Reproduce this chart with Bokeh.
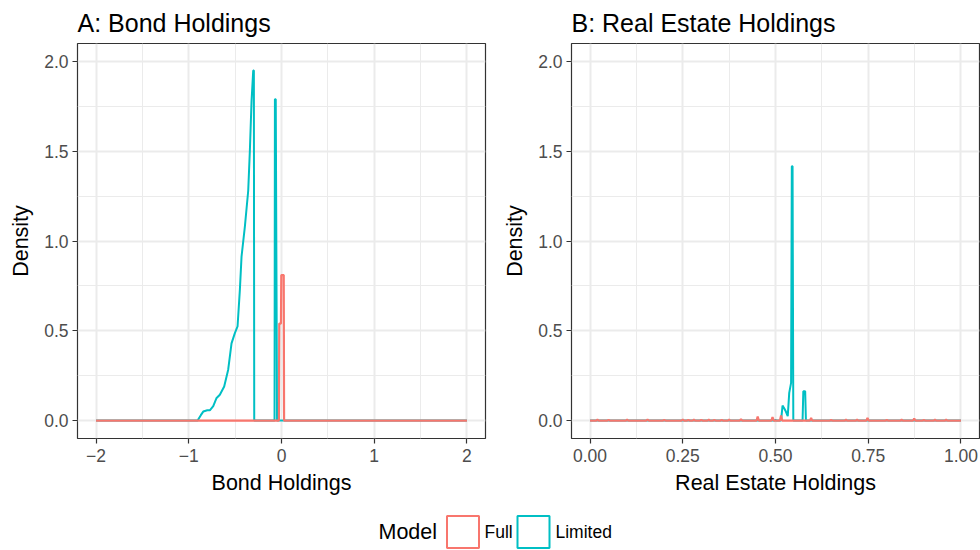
from bokeh.plotting import figure
from bokeh.models import Range1d, FixedTicker
from bokeh.layouts import row, column
from bokeh.embed import file_html
from bokeh.resources import INLINE
from bokeh.core.properties import value

# ---------------- data ----------------
# Panel A: Bond Holdings densities
bond_limited_x = [-2.0, -0.905, -0.87, -0.844, -0.80, -0.773, -0.736, -0.70, -0.665,
                  -0.618, -0.575, -0.539, -0.503, -0.474, -0.449, -0.431, -0.395,
                  -0.359, -0.341, -0.323, -0.305, -0.298, -0.294, -0.075, -0.071,
                  -0.062, -0.048, 2.0]
bond_limited_y = [0.0, 0.0, 0.03, 0.05, 0.057, 0.057, 0.08, 0.126, 0.144,
                  0.19, 0.283, 0.43, 0.487, 0.524, 0.728, 0.913, 1.08,
                  1.28, 1.505, 1.78, 1.95, 1.95, 0.0, 0.0, 1.79,
                  1.79, 0.0, 0.0]
bond_full_x = [-2.0, -0.028, -0.024, -0.006, -0.002, 0.024, 0.028, 2.0]
bond_full_y = [0.0, 0.0, 0.54, 0.54, 0.81, 0.81, 0.0, 0.0]

# Panel B: Real Estate Holdings densities
re_limited_x = [0.0, 0.497, 0.500, 0.503, 0.515, 0.519, 0.523, 0.528, 0.533, 0.537,
                0.542, 0.544, 0.546, 0.548, 0.573, 0.575, 0.580, 0.582, 1.0]
re_limited_y = [0.0, 0.0, 0.004, 0.0, 0.0, 0.083, 0.07, 0.05, 0.024, 0.154,
                0.21, 1.417, 1.417, 0.0, 0.0, 0.163, 0.163, 0.0, 0.0]
re_full_bump_x = [0.02, 0.05, 0.10, 0.155, 0.20, 0.25, 0.265, 0.28, 0.30, 0.32,
                  0.335, 0.355, 0.375, 0.407, 0.452, 0.492, 0.515, 0.596, 0.65,
                  0.69, 0.72, 0.748, 0.80, 0.84, 0.874, 0.90, 0.93, 0.96]
re_full_bump_h = [0.005, 0.004, 0.005, 0.006, 0.004, 0.006, 0.004, 0.005, 0.004, 0.005,
                  0.004, 0.004, 0.005, 0.008, 0.022, 0.02, 0.028, 0.015, 0.004,
                  0.005, 0.005, 0.015, 0.004, 0.005, 0.012, 0.004, 0.005, 0.005]

bond_ticks = [-2, -1, 0, 1, 2]
bond_tick_labels = ["\u22122", "\u22121", "0", "1", "2"]
re_ticks = [0.0, 0.25, 0.5, 0.75, 1.0]
re_tick_labels = ["0.00", "0.25", "0.50", "0.75", "1.00"]
y_ticks = [0.0, 0.5, 1.0, 1.5, 2.0]
y_tick_labels = ["0.0", "0.5", "1.0", "1.5", "2.0"]

models = ["Full", "Limited"]
colors = {"Full": "#F8766D", "Limited": "#00BFC4"}

FONT = "Liberation Sans"

# build the Full real-estate polyline from its bumps
re_full_x = [0.0]
re_full_y = [0.0]
for bx, bh in zip(re_full_bump_x, re_full_bump_h):
    re_full_x += [bx - 0.003, bx, bx + 0.003]
    re_full_y += [0.0, bh, 0.0]
re_full_x.append(1.0)
re_full_y.append(0.0)


def minor_of(ticks):
    return [(a + b) / 2 for a, b in zip(ticks[:-1], ticks[1:])]


def make_panel(title, xlabel, xr, xticks, xlabels, left, right):
    p = figure(width=490, height=500, x_range=Range1d(*xr), y_range=Range1d(-0.1, 2.1),
               output_backend="svg", toolbar_location=None,
               min_border_left=left, min_border_right=right,
               min_border_top=42, min_border_bottom=62)
    p.background_fill_color = "white"
    p.border_fill_color = "white"
    p.outline_line_color = "#333333"
    p.outline_line_width = 1.2

    p.title.text = title
    p.title.text_font = FONT
    p.title.text_font_size = "25px"
    p.title.text_font_style = "normal"
    p.title.text_color = "black"
    p.title.align = "left"
    p.title.offset = 0
    p.title.standoff = 13

    p.xaxis.ticker = FixedTicker(ticks=xticks, minor_ticks=minor_of(xticks))
    p.yaxis.ticker = FixedTicker(ticks=y_ticks, minor_ticks=minor_of(y_ticks))
    p.xaxis.major_label_overrides = {t: l for t, l in zip(xticks, xlabels)}
    p.yaxis.major_label_overrides = {t: l for t, l in zip(y_ticks, y_tick_labels)}
    p.xaxis.axis_label = xlabel
    p.yaxis.axis_label = "Density"
    for ax in (p.xaxis, p.yaxis):
        ax.axis_line_color = None
        ax.major_tick_line_color = "#333333"
        ax.major_tick_line_width = 1.2
        ax.major_tick_out = 5
        ax.major_tick_in = 0
        ax.minor_tick_out = 0
        ax.minor_tick_in = 0
        ax.major_label_text_font = FONT
        ax.major_label_text_font_size = "17.5px"
        ax.major_label_text_color = "#4D4D4D"
        ax.axis_label_text_font = FONT
        ax.axis_label_text_font_size = "21.5px"
        ax.axis_label_text_font_style = "normal"
        ax.axis_label_text_color = "black"
    p.xaxis.major_label_standoff = 5
    p.yaxis.major_label_standoff = 4
    p.xaxis.axis_label_standoff = 6
    p.yaxis.axis_label_standoff = 8

    for g in (p.xgrid, p.ygrid):
        g.grid_line_color = "#EBEBEB"
        g.grid_line_width = 2
        g.minor_grid_line_color = "#EBEBEB"
        g.minor_grid_line_width = 1
    return p


p1 = make_panel("A: Bond Holdings", "Bond Holdings", (-2.2, 2.2), bond_ticks,
                bond_tick_labels, 77, 5)
p1.line(bond_limited_x, bond_limited_y, line_color=colors["Limited"], line_width=2)
p1.line(bond_full_x, bond_full_y, line_color=colors["Full"], line_width=2.2)

p2 = make_panel("B: Real Estate Holdings", "Real Estate Holdings", (-0.05, 1.05), re_ticks,
                re_tick_labels, 81, 1)
p2.line(re_limited_x, re_limited_y, line_color=colors["Limited"], line_width=2)
p2.line(re_full_x, re_full_y, line_color=colors["Full"], line_width=2.2)

# ---------------- legend strip ----------------
leg = figure(width=980, height=50, x_range=Range1d(0, 980), y_range=Range1d(0, 50),
             output_backend="svg", toolbar_location=None,
             min_border_left=0, min_border_right=0, min_border_top=0, min_border_bottom=0)
leg.axis.visible = False
leg.grid.visible = False
leg.outline_line_color = None
leg.text(x=[378], y=[18.5], text=["Model"], text_font=value(FONT), text_font_size="21.5px",
         text_baseline="middle", text_align="left", text_color="black")
key_x = [462.5, 533]
label_x = [484, 555]
leg.rect(x=key_x, y=[18.5, 18.5], width=32, height=32, width_units="screen",
         height_units="screen", fill_color="white",
         line_color=[colors[m] for m in models], line_width=2)
leg.text(x=label_x, y=[18.5, 18.5], text=models, text_font=value(FONT),
         text_font_size="17.5px", text_baseline="middle", text_align="left",
         text_color="black")

layout = column(row(p1, p2), leg)
open("out.html", "w").write(file_html(layout, INLINE))
